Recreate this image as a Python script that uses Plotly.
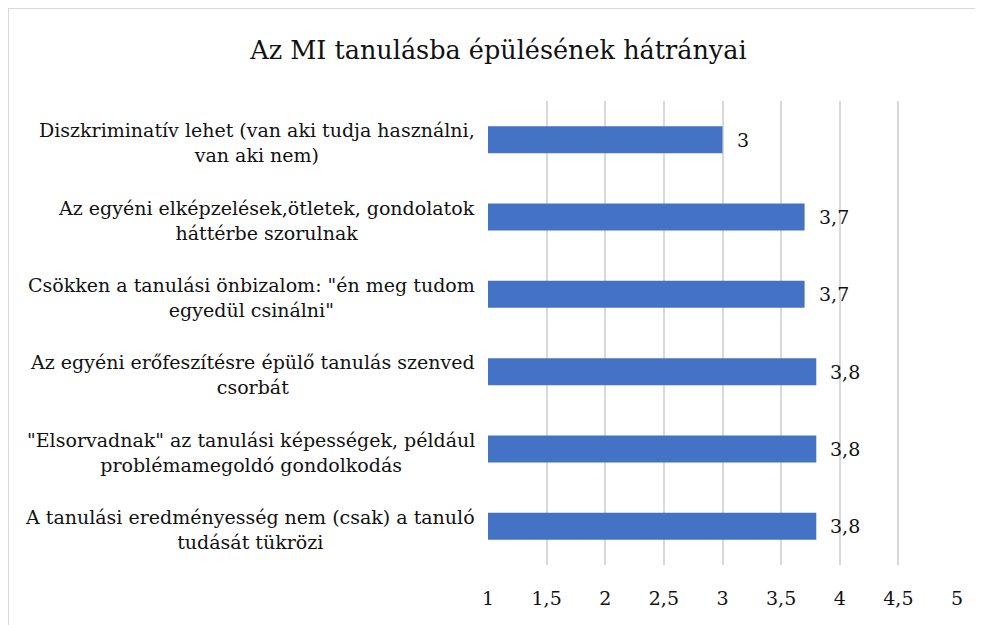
import plotly.graph_objects as go

# adatok (alulról felfelé, ahogy a plotly rajzolja)
kategoriak = [
    "A tanulási eredményesség nem (csak) a tanuló<br>tudását tükrözi",
    "\"Elsorvadnak\" az tanulási képességek, például<br>problémamegoldó gondolkodás",
    "Az egyéni erőfeszítésre épülő tanulás szenved<br>csorbát",
    "Csökken a tanulási önbizalom: \"én meg tudom<br>egyedül csinálni\"",
    "Az egyéni elképzelések,ötletek, gondolatok<br>háttérbe szorulnak",
    "Diszkriminatív lehet (van aki tudja használni,<br>van aki nem)",
]
ertekek = [3.8, 3.8, 3.8, 3.7, 3.7, 3.0]
tick_ertekek = [1, 1.5, 2, 2.5, 3, 3.5, 4, 4.5, 5]
tick_szovegek = ["1", "1,5", "2", "2,5", "3", "3,5", "4", "4,5", "5"]

betu = "DejaVu Serif"
kek = "#4472C4"
szin = "#111111"

fig = go.Figure()
fig.add_trace(go.Bar(
    y=kategoriak, x=ertekek, orientation="h", base=0,
    marker=dict(color=kek, line=dict(width=0)),
    width=0.35, hoverinfo="skip",
))

ann = []
for k, v in zip(kategoriak, ertekek):
    # kategória felirat, középre zárt sorokkal
    ann.append(dict(x=-0.024, xref="paper", y=k, yref="y", text=k,
                    showarrow=False, xanchor="right", align="center", yshift=-3,
                    font=dict(family=betu, size=19, color=szin)))
    # érték felirat a sáv mellett
    ann.append(dict(x=v, xref="x", y=k, yref="y", text=str(v).replace(".", ",").replace(",0", ""),
                    showarrow=False, xanchor="left", xshift=12,
                    font=dict(family=betu, size=19, color=szin)))

# a lap 8 px-es margója miatt a rajz 975x617
fig.update_layout(
    width=975, height=617,
    margin=dict(l=480, r=26, t=93, b=60),
    paper_bgcolor="white", plot_bgcolor="white",
    showlegend=False,
    title=dict(text="Az MI tanulásba épülésének hátrányai", x=0.503, xanchor="center",
               y=0.932, yanchor="middle", font=dict(family=betu, size=25.5, color=szin)),
    xaxis=dict(range=[1, 5], tickvals=tick_ertekek, ticktext=tick_szovegek,
               showgrid=True, gridcolor="#d9d9d9", gridwidth=1.5, zeroline=False,
               showline=False, ticks="outside", ticklen=16, tickcolor="rgba(0,0,0,0)",
               tickfont=dict(family=betu, size=19, color=szin)),
    yaxis=dict(showticklabels=False, showgrid=False, zeroline=False, showline=False,
               categoryorder="array", categoryarray=kategoriak),
    annotations=ann,
    shapes=[dict(type="rect", xref="paper", yref="paper", x0=-480 / 469, x1=1.2, y0=-0.3,
                 y1=1 + 93 / 464, line=dict(color="#d9d9d9", width=2), layer="below")],
)

fig.write_html("out.html")
